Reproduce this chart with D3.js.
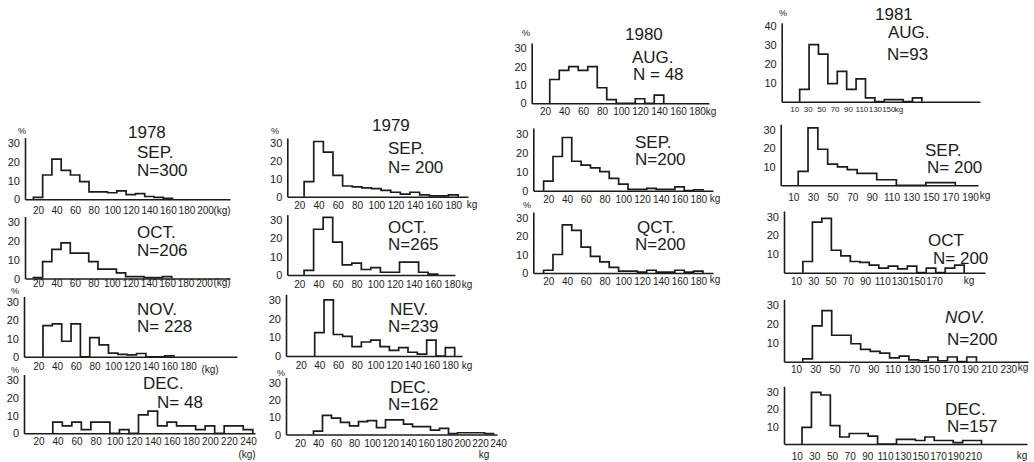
<!DOCTYPE html>
<html>
<head>
<meta charset="utf-8">
<script src="https://cdn.jsdelivr.net/npm/d3@7"></script>
<style>
  body { margin: 0; background: #fff; }
  svg { display: block; }
  .axis path { stroke: #1c1c1c; stroke-width: 1.6; }
  .axis text { font-family: "Liberation Sans Narrow", "Liberation Sans", sans-serif; font-size: 10px; fill: #1c1c1c; }
  .hist { fill: none; stroke: #1c1c1c; stroke-width: 1.7; }
  .lbl { font-family: "Liberation Sans", Arial, sans-serif; font-size: 17px; fill: #1c1c1c; }
  .unit { font-family: "Liberation Sans Narrow", "Liberation Sans", sans-serif; font-size: 10px; fill: #1c1c1c; }
</style>
</head>
<body>
<div id="chart"></div>
<script>
// tick labels (kg)
const ticks1978 = [20, 40, 60, 80, 100, 120, 140, 160, 180, 200];
const ticks1978nov = [20, 40, 60, 80, 100, 120, 140, 160, 180];
const ticks1978dec = [20, 40, 60, 80, 100, 120, 140, 160, 180, 200, 220, 240];
const ticks1979 = [20, 40, 60, 80, 100, 120, 140, 160, 180];
const ticks1979dec = [20, 40, 60, 80, 100, 120, 140, 160, 180, 200, 220, 240];
const ticks1980 = [20, 40, 60, 80, 100, 120, 140, 160, 180];
const ticks1981aug = [10, 30, 50, 70, 90, 110, 130, 150];
const ticks1981sep = [10, 30, 50, 70, 90, 110, 130, 150, 170, 190];
const ticks1981oct = [10, 30, 50, 70, 90, 110, 130, 150, 170];
const ticks1981nov = [10, 30, 50, 70, 90, 110, 130, 150, 170, 190, 210, 230];
const ticks1981dec = [10, 30, 50, 70, 90, 110, 130, 150, 170, 190, 210];

// y tick labels (%)
const pct0to30 = [0, 10, 20, 30];
const pct10to30 = [10, 20, 30];
const pct10to40 = [10, 20, 30, 40];

// frequencies (%) per weight class
const sep1978 = [1, 13, 21.5, 15.5, 13, 9.5, 4, 4, 3.5, 4.5, 2.5, 3, 1.5, 1, 0.5];
const oct1978 = [0.5, 9, 15.5, 19, 13.5, 13.5, 9, 5, 5, 3, 1, 1, 0.5, 0.5, 1];
const nov1978 = [17, 18, 8.5, 18, 0, 10.5, 6.5, 2, 1.3, 1, 1.8, 0, 0, 0.5];
const dec1978 = [6.3, 4.2, 6.3, 2.1, 6.3, 6.3, 0, 2.1, 0, 10.4, 12.5, 4.2, 6.3, 4.2, 4.2, 2.1, 4.2, 0, 4.2, 4.2, 2.1];

const sep1979 = [8.5, 31, 25, 12, 6, 5.5, 5, 4.5, 3.5, 2.5, 1.5, 2.5, 1, 0.5, 0.5, 1];
const oct1979 = [2.5, 25, 31.5, 18, 5.5, 6.5, 3, 4, 1.5, 1.5, 7, 7, 1.5, 0.5];
const nev1979 = [12.5, 30, 11.5, 10.5, 5, 7.5, 8.5, 5, 3, 4.5, 2, 1, 8.5, 0, 4.5];
const dec1979 = [2, 11, 9.5, 7, 5, 7.5, 8, 4, 8.5, 8.5, 6, 4.5, 4.5, 2.5, 3.5, 0.5, 1, 1, 1, 0.5];

const aug1980 = [13, 18, 20, 18, 20, 8.5, 2, 0, 0, 2.5, 0, 4.5];
const sep1980 = [5, 18, 28, 15.5, 13.5, 12, 10, 6.5, 3.5, 0.7, 0.7, 1.2, 0.7, 0.7, 2, 0, 0.5];
const oct1980 = [1.5, 10, 26, 23, 14, 9, 6, 3, 1, 1, 0.5, 1.5, 0.5, 0.5, 1.5, 0.5, 1];

const aug1981 = [6.5, 30, 25, 9.5, 16, 6.5, 12, 2, 0, 1.1, 1.1, 0, 2];
const sep1981 = [7.5, 31, 19.5, 11.5, 10, 8.5, 6.5, 6.5, 3, 3, 0, 0, 0, 1.5, 1.5, 1.5];
const oct1981 = [6, 27, 29, 12, 9, 6, 5.5, 4, 2.5, 3.5, 2, 3.5, 0, 2.5, 0, 2.5, 4];
const nov1981 = [1.5, 19, 27, 14, 14, 9.5, 6.5, 5.5, 4.5, 2, 3, 1, 0.5, 2.5, 0.5, 2.5, 0, 2.5];
const dec1981 = [9.5, 29.5, 28, 10.5, 4, 6, 6, 4.5, 0, 0, 2.7, 2.7, 2, 4, 2, 2, 0.8, 2, 2];

// panels: data + where each one sits on the sheet
// k/p = two kg tick values and their pixel x (hand-drawn axes differ per panel)
const panels = [
  {year: "1978", yearAt: [128, 138], month: "SEP.", monthAt: [137, 158], n: "N=300", nAt: [137, 176],
   values: sep1978, start: 15, width: 10, xTicks: ticks1978, yTicks: pct0to30, unit: "(kg)", unitAt: [222, 214], pctAt: [22, 134],
   ax: 25, xEnd: 230, base: 199.3, per10: 18.7, k: [20, 200], p: [38, 205], lab: 11},
  {month: "OCT.", monthAt: [137, 238], n: "N=206", nAt: [137, 256],
   values: oct1978, start: 15, width: 10, xTicks: ticks1978, yTicks: pct0to30, unit: "(kg)", unitAt: [222, 286], pctAt: [15, 294],
   ax: 25, xEnd: 230, base: 278.5, per10: 18.8, k: [20, 200], p: [38, 204], lab: 4.5},
  {month: "NOV.", monthAt: [137, 315], n: "N= 228", nAt: [137, 332],
   values: nov1978, start: 25, width: 10, xTicks: ticks1978nov, yTicks: pct0to30, unit: "(kg)", unitAt: [210, 373],
   ax: 24, xEnd: 237, base: 356.8, per10: 18.3, k: [20, 180], p: [38.3, 188], lab: 10},
  {month: "DEC.", monthAt: [143, 389], n: "N= 48", nAt: [157, 408],
   values: dec1978, start: 35, width: 10, xTicks: ticks1978dec, yTicks: pct0to30, unit: "(kg)", unitAt: [247, 458], pctAt: [15, 373],
   ax: 24, xEnd: 255, base: 433.3, per10: 17.8, k: [20, 240], p: [38.5, 248], lab: 8.5},

  {year: "1979", yearAt: [372, 131], month: "SEP.", monthAt: [388, 154], n: "N= 200", nAt: [388, 173],
   values: sep1979, start: 25, width: 10, xTicks: ticks1979, yTicks: pct0to30, unit: "kg", unitAt: [472, 208], pctAt: [275, 134],
   ax: 287.3, xEnd: 468, base: 196.7, per10: 17.8, k: [20, 180], p: [299.3, 453.3], lab: 8.5},
  {month: "OCT.", monthAt: [388, 233], n: "N=265", nAt: [388, 250],
   values: oct1979, start: 25, width: 10, xTicks: ticks1979, yTicks: pct0to30, unit: "kg", unitAt: [467, 288],
   ax: 287.3, xEnd: 455, base: 275, per10: 18.3, k: [20, 180], p: [299.3, 452], lab: 9},
  {month: "NEV.", monthAt: [390, 315], n: "N=239", nAt: [388, 332],
   values: nev1979, start: 35, width: 10, xTicks: ticks1979, yTicks: pct0to30, unit: "kg", unitAt: [467, 369],
   ax: 286, xEnd: 462, base: 356, per10: 18.7, k: [20, 180], p: [300.7, 450], lab: 9.7},
  {month: "DEC.", monthAt: [390, 393], n: "N=162", nAt: [388, 410],
   values: dec1979, start: 35, width: 10, xTicks: ticks1979dec, yTicks: pct0to30, unit: "kg", unitAt: [484, 458], pctAt: [281, 376],
   ax: 286, xEnd: 497, base: 434.5, per10: 17.3, k: [20, 220], p: [300, 480], lab: 9},

  {year: "1980", yearAt: [625, 40], month: "AUG.", monthAt: [632, 63], n: "N = 48", nAt: [633, 80],
   values: aug1980, start: 25, width: 10, xTicks: ticks1980, yTicks: pct0to30, unit: "kg", unitAt: [711, 115], pctAt: [526, 36],
   ax: 531.7, xEnd: 709, base: 103.3, per10: 18.3, k: [20, 180], p: [545, 697], lab: 8.4},
  {month: "SEP.", monthAt: [635, 148], n: "N=200", nAt: [635, 165],
   values: sep1980, start: 15, width: 10, xTicks: ticks1980, yTicks: pct0to30, unit: "kg", unitAt: [715, 202],
   ax: 533.3, xEnd: 713, base: 190.7, per10: 19, k: [20, 180], p: [548.3, 698.3], lab: 8.6},
  {month: "QCT.", monthAt: [637, 233], n: "N=200", nAt: [635, 250],
   values: oct1980, start: 15, width: 10, xTicks: ticks1980, yTicks: pct0to30, unit: "kg", unitAt: [715, 283], pctAt: [527, 208],
   ax: 533.3, xEnd: 713, base: 273, per10: 18.5, k: [20, 180], p: [548.3, 698.3], lab: 8.6},

  {year: "1981", yearAt: [875, 20], month: "AUG.", monthAt: [888, 38], n: "N=93", nAt: [887, 60],
   values: aug1981, start: 18, width: 14, xTicks: ticks1981aug, yTicks: pct10to40, yMax: 41.5, unit: "kg", unitAt: [899, 112], pctAt: [783, 16],
   ax: 781.7, xEnd: 980, base: 101.7, per10: 19, k: [10, 150], p: [794.3, 888.3], lab: 7.6, tickFont: 8},
  {month: "SEP.", monthAt: [925, 156], n: "N= 200", nAt: [927, 173],
   values: sep1981, start: 15, width: 10, xTicks: ticks1981sep, yTicks: pct10to30, unit: "kg", unitAt: [985, 199],
   ax: 780.7, xEnd: 978, base: 185.3, per10: 18.5, k: [10, 190], p: [793.3, 970], lab: 12},
  {month: "OCT", monthAt: [928, 246], n: "N= 200", nAt: [933, 264],
   values: oct1981, start: 18, width: 11, xTicks: ticks1981oct, yTicks: pct10to30, unit: "kg", unitAt: [969, 284],
   ax: 784, xEnd: 985, base: 272.7, per10: 18.7, k: [10, 170], p: [796, 934], lab: 9},
  {month: "NOV.", monthAt: [945, 323], italic: true, n: "N=200", nAt: [947, 345],
   values: nov1981, start: 17, width: 10, xTicks: ticks1981nov, yTicks: pct10to30, unit: "kg", unitAt: [1023, 371],
   ax: 784, xEnd: 1028, base: 361.7, per10: 18.9, k: [10, 230], p: [796, 1008.3], lab: 8.3},
  {month: "DEC.", monthAt: [945, 415], n: "N=157", nAt: [947, 432],
   values: dec1981, start: 16, width: 10.7, xTicks: ticks1981dec, yTicks: pct10to30, unit: "kg", unitAt: [1022, 459],
   ax: 784, xEnd: 1027, base: 444, per10: 17.5, k: [10, 210], p: [796.7, 973.3], lab: 12}
];

const svg = d3.select("#chart")
  .append("svg")
  .attr("width", 1034)
  .attr("height", 462);

panels.forEach(drawPanel);

function drawPanel(d) {
  // x: fit through two tick positions, then stretch to the drawn axis length
  const fit = d3.scaleLinear().domain(d.k).range(d.p);
  const x = d3.scaleLinear()
    .domain([fit.invert(d.ax), fit.invert(d.xEnd)])
    .range([d.ax, d.xEnd]);

  const yMax = d.yMax || 33;
  const y = d3.scaleLinear()
    .domain([0, yMax])
    .range([d.base, d.base - yMax * d.per10 / 10]);

  const tickFont = d.tickFont || 10;

  // x axis
  svg.append("g")
    .attr("class", "axis")
    .attr("transform", `translate(0, ${d.base})`)
    .call(d3.axisBottom(x).tickValues(d.xTicks).tickSize(0).tickPadding(d.lab - tickFont * 0.36).tickFormat(d3.format("d")))
    .call(g => g.select(".domain").attr("fill", "none"))
    .call(g => g.selectAll("text").style("font-size", tickFont + "px"));

  // y axis
  svg.append("g")
    .attr("class", "axis")
    .attr("transform", `translate(${d.ax}, 0)`)
    .call(d3.axisLeft(y).tickValues(d.yTicks).tickSize(0).tickPadding(5).tickFormat(d3.format("d")))
    .call(g => g.select(".domain").attr("fill", "none"))
    .call(g => g.selectAll("text").style("font-size", "11px"));

  // histogram outline
  const pts = [[d.start, 0]]
    .concat(d.values.map((v, i) => [d.start + i * d.width, v]))
    .concat([[d.start + d.values.length * d.width, 0]]);

  svg.append("path")
    .datum(pts)
    .attr("class", "hist")
    .attr("d", d3.line()
      .x(p => x(p[0]))
      .y(p => y(p[1]))
      .curve(d3.curveStepAfter));

  // labels
  if (d.year) {
    svg.append("text").attr("class", "lbl")
      .attr("x", d.yearAt[0]).attr("y", d.yearAt[1])
      .text(d.year);
  }
  svg.append("text").attr("class", "lbl")
    .attr("x", d.monthAt[0]).attr("y", d.monthAt[1])
    .style("font-style", d.italic ? "italic" : null)
    .text(d.month);
  svg.append("text").attr("class", "lbl")
    .attr("x", d.nAt[0]).attr("y", d.nAt[1])
    .text(d.n);

  svg.append("text").attr("class", "unit")
    .attr("x", d.unitAt[0]).attr("y", d.unitAt[1])
    .attr("text-anchor", "middle")
    .style("font-size", tickFont + "px")
    .text(d.unit);

  if (d.pctAt) {
    svg.append("text").attr("class", "unit")
      .attr("x", d.pctAt[0]).attr("y", d.pctAt[1])
      .attr("text-anchor", "middle")
      .style("font-size", "9px")
      .text("%");
  }
}
</script>
</body>
</html>
